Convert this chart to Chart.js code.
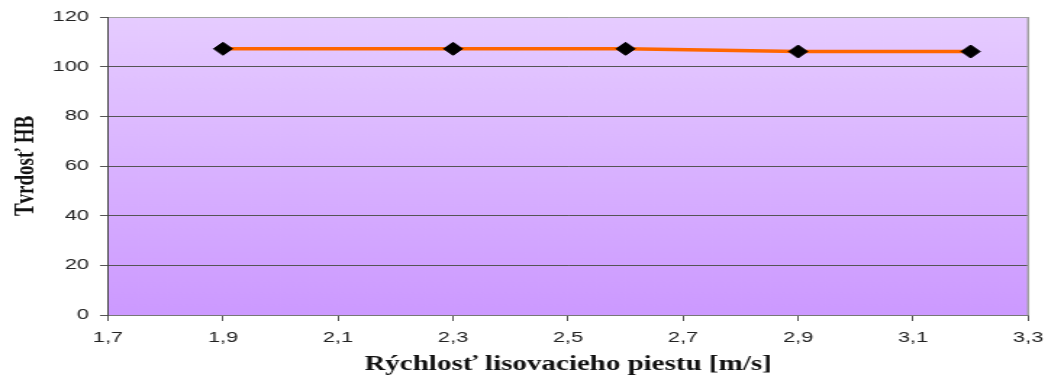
<!DOCTYPE html>
<html>
<head>
<meta charset="utf-8">
<script src="https://cdn.jsdelivr.net/npm/chart.js@4"></script>
<style>
  html, body { margin: 0; padding: 0; background: #fff; }
</style>
</head>
<body>
<!-- drawn at 723px wide and shown stretched to 1048px -->
<canvas id="c" width="723" height="388" style="width:1048px;height:388px;display:block"></canvas>
<script>
// Piston speed [m/s] and measured hardness HB
const speeds = [1.9, 2.3, 2.6, 2.9, 3.2];
const hardness = [107.2, 107.2, 107.2, 106.1, 106.1];

// Axis ticks
const xTicks = [1.7, 1.9, 2.1, 2.3, 2.5, 2.7, 2.9, 3.1, 3.3];
const xTickLabels = ['1,7', '1,9', '2,1', '2,3', '2,5', '2,7', '2,9', '3,1', '3,3'];
const yTicks = [0, 20, 40, 60, 80, 100, 120];
const yTickLabels = ['0', '20', '40', '60', '80', '100', '120'];

const xTitle = 'Rýchlosť lisovacieho piestu [m/s]';
const yTitle = 'Tvrdosť HB';

// Purple gradient plot background and grey right-hand frame line
const plotFrame = {
  id: 'plotFrame',
  beforeDraw(chart) {
    const { ctx, chartArea: a } = chart;
    const g = ctx.createLinearGradient(0, a.top, 0, a.bottom);
    g.addColorStop(0, '#e6ccff');
    g.addColorStop(1, '#cc99ff');
    ctx.save();
    ctx.fillStyle = g;
    ctx.fillRect(a.left, a.top, a.right - a.left, a.bottom - a.top);
    ctx.restore();
  },
  beforeDatasetsDraw(chart) {
    const { ctx, chartArea: a } = chart;
    ctx.save();
    ctx.strokeStyle = '#a0a0a0';
    ctx.lineWidth = 1.5;
    ctx.beginPath();
    ctx.moveTo(a.right, a.top);
    ctx.lineTo(a.right, a.bottom);
    ctx.stroke();
    ctx.restore();
  }
};

new Chart(document.getElementById('c'), {
  type: 'line',
  data: {
    datasets: [{
      data: speeds.map((x, i) => ({ x, y: hardness[i] })),
      borderColor: '#ff6600',
      borderWidth: 3.5,
      tension: 0,
      pointStyle: 'rectRot',
      pointRadius: 6.5,
      pointBackgroundColor: '#000',
      pointBorderColor: '#000',
      pointBorderWidth: 1,
      clip: false
    }]
  },
  options: {
    responsive: false,
    animation: false,
    events: [],
    layout: { padding: { top: 17, right: 13.7, left: 0, bottom: 0 } },
    plugins: { legend: { display: false }, tooltip: { enabled: false } },
    scales: {
      x: {
        type: 'linear',
        min: 1.7,
        max: 3.3,
        afterBuildTicks: (axis) => { axis.ticks = xTicks.map(v => ({ value: v })); },
        afterFit: (s) => { s.height = 73; s.paddingLeft = 0; s.paddingRight = 0; },
        grid: { drawOnChartArea: false, drawTicks: true, tickLength: 6, color: '#555' },
        border: { color: '#777', width: 1 },
        ticks: {
          callback: (v, i) => xTickLabels[i],
          font: { family: 'Liberation Sans', size: 15 },
          color: '#222',
          padding: 8,
          maxRotation: 0,
          autoSkip: false
        },
        title: {
          display: true,
          text: xTitle,
          font: { family: 'Liberation Serif', size: 20, weight: 'bold' },
          color: '#111',
          padding: { top: 0, bottom: 11 }
        }
      },
      y: {
        min: 0,
        max: 120,
        afterBuildTicks: (axis) => { axis.ticks = yTicks.map(v => ({ value: v })); },
        afterFit: (s) => { s.width = 74.5; },
        grid: {
          color: (c) => (c.tick && c.tick.value === 120 ? '#a0a0a0' : '#555'),
          tickColor: '#555',
          tickLength: 5.5,
          lineWidth: 1
        },
        border: { color: '#444', width: 1 },
        ticks: {
          callback: (v, i) => yTickLabels[i],
          font: { family: 'Liberation Sans', size: 15 },
          color: '#222',
          padding: 7.6
        },
        title: {
          display: true,
          text: yTitle,
          font: { family: 'Liberation Serif', size: 19, weight: 'bold' },
          color: '#111',
          padding: { top: 6.5, bottom: 0 }
        }
      }
    }
  },
  plugins: [plotFrame]
});
</script>
</body>
</html>
